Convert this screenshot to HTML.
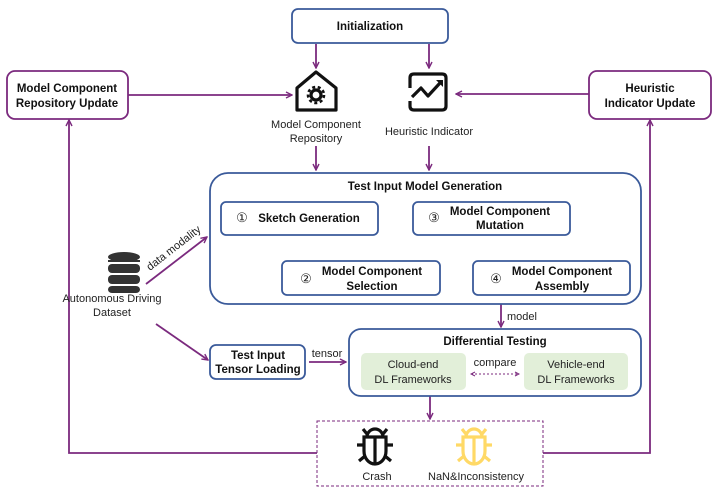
<!DOCTYPE html>
<html><head><meta charset="utf-8"><style>
html,body{margin:0;padding:0;background:#fff;}
svg{display:block;font-family:"Liberation Sans",Arial,sans-serif;}
.b{font-weight:bold;font-size:11.5px;fill:#111;}
.n{font-size:11px;fill:#222;}
</style></head><body>
<svg width="714" height="500" viewBox="0 0 714 500" xmlns="http://www.w3.org/2000/svg">
<defs>
<marker id="a" markerWidth="8" markerHeight="8" refX="7" refY="4" orient="auto" markerUnits="userSpaceOnUse"><path d="M1,1 L7,4 L1,7" fill="none" stroke="#7b2a7e" stroke-width="1.4"/></marker>
<marker id="as" markerWidth="6" markerHeight="6" refX="5" refY="3" orient="auto-start-reverse" markerUnits="userSpaceOnUse"><path d="M1,1 L5,3 L1,5" fill="none" stroke="#7b2a7e" stroke-width="1"/></marker>
<g id="bug" fill="none" stroke-width="3.2" stroke-linecap="butt">
<path d="M-8,-9 A8,8 0 0 1 8,-9"/>
<path d="M-11,-9 L11,-9 L11,5 A11,13 0 0 1 -11,5 Z"/>
<path d="M0,-9 L0,17"/>
<path d="M-11,-1 L-18,-1 M11,-1 L18,-1 M-8,-12 L-12,-17 M8,-12 L12,-17 M-10,10 L-16,15 M10,10 L16,15"/>
</g>
</defs>
<g stroke="#7b2a7e" stroke-width="1.8" fill="none">
<line x1="316" y1="44" x2="316" y2="68" marker-end="url(#a)"/>
<line x1="429" y1="44" x2="429" y2="68" marker-end="url(#a)"/>
<line x1="128" y1="95" x2="292" y2="95" marker-end="url(#a)"/>
<line x1="589" y1="94" x2="456" y2="94" marker-end="url(#a)"/>
<line x1="316" y1="146" x2="316" y2="170" marker-end="url(#a)"/>
<line x1="429" y1="146" x2="429" y2="170" marker-end="url(#a)"/>
<line x1="300" y1="235" x2="300" y2="259" marker-end="url(#a)"/>
<line x1="422" y1="261" x2="422" y2="237" marker-end="url(#a)"/>
<line x1="491" y1="235" x2="491" y2="259" marker-end="url(#a)"/>
<line x1="146" y1="284" x2="207" y2="237" marker-end="url(#a)"/>
<line x1="156" y1="324" x2="208" y2="360" marker-end="url(#a)"/>
<line x1="309" y1="362" x2="346" y2="362" marker-end="url(#a)"/>
<line x1="501" y1="304" x2="501" y2="327" marker-end="url(#a)"/>
<line x1="430" y1="396" x2="430" y2="419" marker-end="url(#a)"/>
<polyline points="317,453 69,453 69,120" marker-end="url(#a)"/>
<polyline points="543,453 650,453 650,120" marker-end="url(#a)"/>
</g>
<rect x="317" y="421" width="226" height="65" fill="#fff" stroke="#7b2a7e" stroke-width="1" stroke-dasharray="3,2"/>
<g fill="#fff" stroke-width="1.8">
<rect x="292" y="9" width="156" height="34" rx="6" stroke="#3a5a9a"/>
<rect x="7" y="71" width="121" height="48" rx="8" stroke="#7b2a7e"/>
<rect x="589" y="71" width="122" height="48" rx="8" stroke="#7b2a7e"/>
<rect x="210" y="173" width="431" height="131" rx="18" stroke="#3a5a9a"/>
<rect x="221" y="202" width="157" height="33" rx="5" stroke="#3a5a9a"/>
<rect x="413" y="202" width="157" height="33" rx="5" stroke="#3a5a9a"/>
<rect x="282" y="261" width="158" height="34" rx="5" stroke="#3a5a9a"/>
<rect x="473" y="261" width="157" height="34" rx="5" stroke="#3a5a9a"/>
<rect x="210" y="345" width="95" height="34" rx="6" stroke="#3a5a9a"/>
<rect x="349" y="329" width="292" height="67" rx="12" stroke="#3a5a9a"/>
</g>
<rect x="361" y="353" width="105" height="37" rx="5" fill="#e2efd9"/>
<rect x="524" y="353" width="104" height="37" rx="5" fill="#e2efd9"/>
<line x1="471" y1="374" x2="519" y2="374" stroke="#7b2a7e" stroke-width="1" stroke-dasharray="2,2" marker-start="url(#as)" marker-end="url(#as)"/>
<!-- house icon -->
<g fill="none" stroke="#111" stroke-width="3.2" stroke-linejoin="round">
<path d="M297,88 L316,72 L336,88 L336,110 L297,110 Z"/>
<circle cx="316" cy="95" r="5"/>
<circle cx="316" cy="95" r="8" stroke-dasharray="3,2.6" stroke-width="2.6"/>
</g>
<!-- chart icon -->
<g fill="none" stroke="#111" stroke-width="3.2" stroke-linejoin="round">
<path d="M410,88 L410,78 Q410,74 414,74 L442,74 Q446,74 446,78 L446,106 Q446,110 442,110 L414,110 Q410,110 410,106 L410,101"/>
<path d="M412,97 L421,88 L428,96 L440,83"/>
</g>
<path d="M436,80 L443,80 L443,87 Z" fill="#111"/>
<!-- database -->
<g fill="#333">
<ellipse cx="124" cy="257" rx="16" ry="5"/>
<rect x="108" y="264" width="32" height="9" rx="4"/>
<rect x="108" y="275" width="32" height="9" rx="4"/>
<rect x="108" y="260" width="32" height="2"/>
<rect x="108" y="286" width="32" height="7" rx="4"/>
</g>
<use href="#bug" x="375" y="446" stroke="#111"/>
<use href="#bug" x="474" y="446" stroke="#ffd966"/>
<g text-anchor="middle">
<text class="b" x="370" y="30">Initialization</text>
<text class="b" x="67" y="92">Model Component</text>
<text class="b" x="67" y="107">Repository Update</text>
<text class="b" x="650" y="92">Heuristic</text>
<text class="b" x="650" y="107">Indicator Update</text>
<text class="n" x="316" y="128">Model Component</text>
<text class="n" x="316" y="142">Repository</text>
<text class="n" x="429" y="135">Heuristic Indicator</text>
<text class="b" x="425" y="190">Test Input Model Generation</text>
<text class="b" x="309" y="222">Sketch Generation</text>
<text class="n" x="242" y="222" style="font-size:13px">①</text>
<text class="b" x="500" y="215">Model Component</text>
<text class="b" x="500" y="229">Mutation</text>
<text class="n" x="434" y="222" style="font-size:13px">③</text>
<text class="b" x="372" y="275">Model Component</text>
<text class="b" x="372" y="290">Selection</text>
<text class="n" x="306" y="283" style="font-size:13px">②</text>
<text class="b" x="562" y="275">Model Component</text>
<text class="b" x="562" y="290">Assembly</text>
<text class="n" x="496" y="283" style="font-size:13px">④</text>
<text class="n" x="112" y="302">Autonomous Driving</text>
<text class="n" x="112" y="316">Dataset</text>
<text class="b" x="258" y="359">Test Input</text>
<text class="b" x="258" y="373">Tensor Loading</text>
<text class="b" x="495" y="345">Differential Testing</text>
<text class="n" x="413" y="368">Cloud-end</text>
<text class="n" x="413" y="383">DL Frameworks</text>
<text class="n" x="576" y="368">Vehicle-end</text>
<text class="n" x="576" y="383">DL Frameworks</text>
<text class="n" x="495" y="366">compare</text>
<text class="n" x="377" y="480">Crash</text>
<text class="n" x="476" y="480">NaN&amp;Inconsistency</text>
</g>
<text class="n" x="327" y="357" text-anchor="middle">tensor</text>
<text class="n" x="507" y="320">model</text>
<text class="n" x="0" y="0" transform="translate(150,271) rotate(-38)">data modality</text>
</svg>
</body></html>
